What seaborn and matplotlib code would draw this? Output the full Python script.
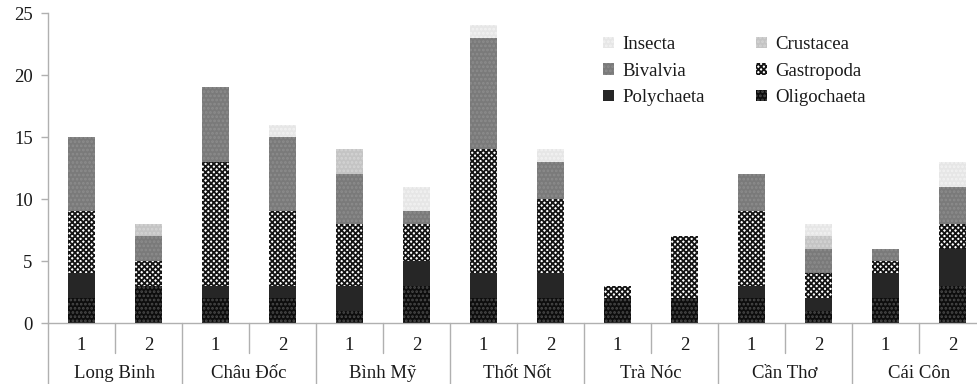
import matplotlib
matplotlib.use("Agg")
import matplotlib.pyplot as plt
import seaborn as sns
import numpy as np
import pandas as pd
from matplotlib.patches import Patch
from matplotlib.lines import Line2D
import matplotlib.transforms as mtransforms

# ---- data ----
sites = ["Long Binh", "Châu Đốc", "Bình Mỹ", "Thốt Nốt", "Trà Nóc", "Cần Thơ", "Cái Côn"]
samples = ["1", "2"]
oligochaeta = [2, 3, 2, 2, 1, 3, 2, 2, 2, 2, 2, 1, 2, 3]
polychaeta  = [2, 0, 1, 1, 2, 2, 2, 2, 0, 0, 1, 1, 2, 3]
gastropoda  = [5, 2, 10, 6, 5, 3, 10, 6, 1, 5, 6, 2, 1, 2]
bivalvia    = [6, 2, 6, 6, 4, 1, 9, 3, 0, 0, 3, 2, 1, 3]
crustacea   = [0, 1, 0, 0, 2, 0, 0, 0, 0, 0, 0, 1, 0, 0]
insecta     = [0, 0, 0, 1, 0, 2, 1, 1, 0, 0, 0, 1, 0, 2]
yticks = [0, 5, 10, 15, 20, 25]

series_names = ["Oligochaeta", "Polychaeta", "Gastropoda", "Bivalvia", "Crustacea", "Insecta"]
series_vals = [oligochaeta, polychaeta, gastropoda, bivalvia, crustacea, insecta]
styles = {
    "Oligochaeta": dict(facecolor="#0d0d0d", hatch="....", edgecolor="#4a4a4a"),
    "Polychaeta":  dict(facecolor="#262626", hatch=None, edgecolor="#262626"),
    "Gastropoda":  dict(facecolor="#ffffff", hatch="xxxxxx", edgecolor="#141414"),
    "Bivalvia":    dict(facecolor="#7a7a7a", hatch="....", edgecolor="#8c8c8c"),
    "Crustacea":   dict(facecolor="#c4c4c4", hatch="....", edgecolor="#d4d4d4"),
    "Insecta":     dict(facecolor="#e6e6e6", hatch="....", edgecolor="#f2f2f2"),
}

bar_labels = [f"{s}-{n}" for s in sites for n in samples]

sns.set_theme(style="white")
plt.rcParams["font.family"] = ["Liberation Serif", "DejaVu Serif"]
plt.rcParams["hatch.linewidth"] = 1.3

FS = 13.5
TXT = "#1a1a1a"

fig = plt.figure(figsize=(9.78, 3.84), dpi=100)
ax = fig.add_axes([48 / 978, 1 - 323 / 384, 938 / 978, 310 / 384])

cum = np.cumsum(np.array(series_vals), axis=0)
# draw from top of the stack down so lower segments overlay the cumulative totals
for i in range(len(series_names) - 1, -1, -1):
    name = series_names[i]
    df = pd.DataFrame({"bar": bar_labels, "value": cum[i]})
    st = styles[name]
    sns.barplot(data=df, x="bar", y="value", order=bar_labels, ax=ax,
                color=st["facecolor"], saturation=1, width=0.4,
                hatch=st["hatch"], edgecolor=st["edgecolor"], linewidth=0,
                errorbar=None)

ax.set_xlim(-0.5, len(bar_labels) - 0.5)
ax.set_ylim(0, 25)
ax.set_yticks(yticks)
ax.set_xticks([])
ax.set_xlabel("")
ax.set_ylabel("")
for side in ["top", "right"]:
    ax.spines[side].set_visible(False)
for side in ["left", "bottom"]:
    ax.spines[side].set_color("#b0b0b0")
    ax.spines[side].set_linewidth(1.0)
ax.tick_params(axis="y", left=True, length=5, width=1, color="#b0b0b0",
               labelsize=FS, pad=6, labelcolor=TXT)

# two-level x labels with separators
trans = mtransforms.blended_transform_factory(ax.transData, ax.transAxes)
ax_h = 310.0
for k in range(len(bar_labels)):
    ax.text(k, -23 / ax_h, samples[k % 2], transform=trans, ha="center", va="center",
            fontsize=FS, color=TXT)
for g, s in enumerate(sites):
    ax.text(2 * g + 0.5, -50 / ax_h, s, transform=trans, ha="center", va="center",
            fontsize=FS, color=TXT)
for g in range(len(sites) + 1):
    x = 2 * g - 0.5
    ax.add_line(Line2D([x, x], [0, -62 / ax_h], transform=trans, color="#b0b0b0",
                       lw=1.0, clip_on=False))
for g in range(len(sites)):
    x = 2 * g + 0.5
    ax.add_line(Line2D([x, x], [0, -30 / ax_h], transform=trans, color="#b0b0b0",
                       lw=1.0, clip_on=False))

# legend (row-wise order: Insecta, Crustacea / Bivalvia, Gastropoda / Polychaeta, Oligochaeta)
leg_order = ["Insecta", "Bivalvia", "Polychaeta", "Crustacea", "Gastropoda", "Oligochaeta"]
handles = [Patch(facecolor=styles[n]["facecolor"], hatch=styles[n]["hatch"],
                 edgecolor=styles[n]["edgecolor"], linewidth=0, label=n) for n in leg_order]
leg = fig.legend(handles=handles, loc="upper left", bbox_to_anchor=(594 / 978, 1 - 27 / 384),
                 ncol=2, frameon=False, fontsize=FS, handlelength=0.55, handleheight=0.55,
                 handletextpad=0.45, columnspacing=2.75, labelspacing=0.5, borderpad=0)
for t in leg.get_texts():
    t.set_color(TXT)

fig.savefig("out.png", dpi=100)
